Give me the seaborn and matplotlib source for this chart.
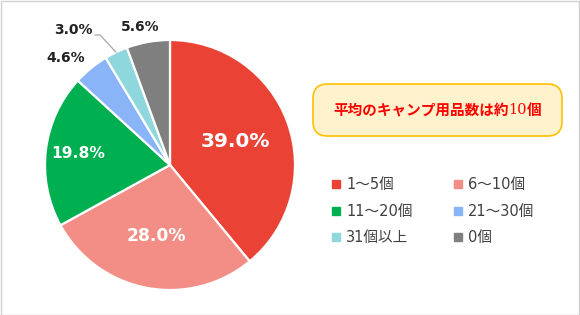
import matplotlib
matplotlib.use("Agg")
import matplotlib.pyplot as plt
import seaborn as sns
import numpy as np
from matplotlib.patches import FancyBboxPatch, Rectangle
from matplotlib.lines import Line2D

sns.set_theme(style="white")
plt.rcParams['font.family'] = ['DejaVu Sans', 'Noto Sans CJK JP']

categories = ["1～5個", "6～10個", "11～20個", "21～30個", "31個以上", "0個"]
values = [39.0, 28.0, 19.8, 4.6, 3.0, 5.6]
colors = ["#EA4335", "#F28E86", "#00B050", "#8AB4F8", "#8ED8DD", "#7F7F7F"]
title_parts = ["平均のキャンプ用品数は約", "10", "個"]

W, H = 580, 315
fig = plt.figure(figsize=(W / 100, H / 100), dpi=100)
fig.patch.set_facecolor("white")
fig.patches.append(Rectangle((0.5 / W, 0.5 / H), (W - 1.5) / W, (H - 1.5) / H,
                             transform=fig.transFigure, fill=False,
                             edgecolor="#D0D0D0", linewidth=1.0))

cx, cy, r = 170, 165, 125
ax = fig.add_axes([(cx - r) / W, (H - cy - r) / H, 2 * r / W, 2 * r / H])
wedges, _ = ax.pie(values, colors=colors, startangle=90, counterclock=False,
                   wedgeprops=dict(edgecolor="white", linewidth=1.6))
ax.set_xlim(-1, 1)
ax.set_ylim(-1, 1)
ax.set_aspect("equal")
ax.axis("off")

# label style per slice: (distance, angle offset, color, size)
label_style = [
    (0.56, 0.0, "white", 14.5),
    (0.58, 0.0, "white", 12.3),
    (0.74, 0.0, "white", 11.2),
    (1.20, 5.0, "#222222", 10),
    (1.33, 10.0, "#222222", 10),
    (1.13, 2.0, "#222222", 10),
]
for w, v, (d, off, c, s) in zip(wedges, values, label_style):
    ang = np.deg2rad((w.theta1 + w.theta2) / 2 + off)
    x, y = d * np.cos(ang), d * np.sin(ang)
    ax.text(x, y, f"{v:.1f}%", ha="center", va="center", color=c,
            fontsize=s, fontweight="bold", clip_on=False)

# leader line for the small cyan slice
w = wedges[4]
ang = np.deg2rad((w.theta1 + w.theta2) / 2)
ax.plot([-0.60, -0.56, 1.0 * np.cos(ang)],
        [1.04, 1.04, 1.0 * np.sin(ang)],
        color="#A6A6A6", linewidth=0.9, clip_on=False)

# title box
bx0, by0, bx1, by1 = 313, 84, 562, 136
fig.patches.append(FancyBboxPatch((bx0 / W, (H - by1) / H), (bx1 - bx0) / W, (by1 - by0) / H,
                                  boxstyle="round,pad=0,rounding_size=0.025",
                                  transform=fig.transFigure, facecolor="#FFF2CC",
                                  edgecolor="#FFC000", linewidth=1.2,
                                  mutation_aspect=W / H))
fig.canvas.draw()
renderer = fig.canvas.get_renderer()
fams = [['Noto Sans CJK JP'], ['DejaVu Serif'], ['Noto Sans CJK JP']]
weights = ["bold", "normal", "bold"]
texts = []
for p, fm, wt in zip(title_parts, fams, weights):
    t = fig.text(0, 0, p, family=fm, fontweight=wt, fontsize=10.5, color="#FF0000",
                 va="center", ha="left")
    texts.append(t)
widths = [t.get_window_extent(renderer).width for t in texts]
total = sum(widths)
x0 = (bx0 + bx1) / 2 - total / 2
ty = (H - 110) / H
for t, wd in zip(texts, widths):
    t.set_position((x0 / W, ty))
    x0 += wd

# legend (row-wise order in a 2-column layout)
handles = [Line2D([], [], marker="s", linestyle="none", markersize=6,
                  markerfacecolor=c, markeredgecolor=c) for c in colors]
order = [0, 2, 4, 1, 3, 5]
leg = fig.legend([handles[i] for i in order], [categories[i] for i in order],
                 ncol=2, loc="upper left", bbox_to_anchor=(325 / W, (H - 170) / H),
                 frameon=False, fontsize=10.5, handlelength=0.55, handletextpad=0.4,
                 columnspacing=2.85, labelspacing=0.78, borderpad=0)
for t in leg.get_texts():
    t.set_color("#404040")

fig.savefig("out.png", dpi=100)
